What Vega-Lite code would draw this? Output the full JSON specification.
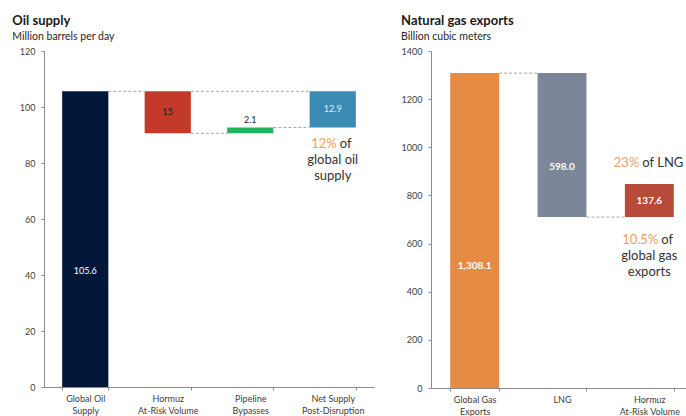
{
  "$schema": "https://vega.github.io/schema/vega-lite/v6.json",
  "padding": {"left": 12, "top": 14, "right": 0, "bottom": 0},
  "background": "white",
  "spacing": 27,
  "config": {
    "font": "Lato",
    "view": {"stroke": null},
    "axis": {"labelFont": "Lato", "labelFontSize": 9, "labelColor": "#404040", "domainColor": "#8c8c8c", "tickColor": "#8c8c8c", "tickSize": 3, "grid": false, "title": null},
    "title": {"anchor": "start", "frame": "bounds", "font": "Lato", "fontSize": 13, "fontWeight": "bold", "color": "#1a1a1a", "subtitleFont": "Lato", "subtitleFontSize": 10.5, "subtitleColor": "#262626", "subtitlePadding": 4, "offset": 5}
  },
  "datasets": {
    "oil": [
      {"cat": "Global Oil|Supply", "start": 0, "end": 105.6, "label": "105.6"},
      {"cat": "Hormuz|At-Risk Volume", "start": 90.6, "end": 105.6, "label": "15"},
      {"cat": "Pipeline|Bypasses", "start": 90.6, "end": 92.7, "label": "2.1"},
      {"cat": "Net Supply|Post-Disruption", "start": 92.7, "end": 105.6, "label": "12.9"}
    ],
    "oilLinks": [
      {"from": "Global Oil|Supply", "to": "Hormuz|At-Risk Volume", "y": 105.6},
      {"from": "Hormuz|At-Risk Volume", "to": "Net Supply|Post-Disruption", "y": 105.6},
      {"from": "Hormuz|At-Risk Volume", "to": "Pipeline|Bypasses", "y": 90.6},
      {"from": "Pipeline|Bypasses", "to": "Net Supply|Post-Disruption", "y": 92.7}
    ],
    "oilNotes": [
      {"cat": "Net Supply|Post-Disruption", "y": 86.8, "text": "12%", "part": "accent"},
      {"cat": "Net Supply|Post-Disruption", "y": 86.8, "text": "of", "part": "tail"},
      {"cat": "Net Supply|Post-Disruption", "y": 81.1, "text": "global oil", "part": "line"},
      {"cat": "Net Supply|Post-Disruption", "y": 75.4, "text": "supply", "part": "line"}
    ],
    "gas": [
      {"cat": "Global Gas|Exports", "start": 0, "end": 1308.1, "label": "1,308.1"},
      {"cat": "LNG", "start": 710.1, "end": 1308.1, "label": "598.0"},
      {"cat": "Hormuz|At-Risk Volume", "start": 710.1, "end": 847.7, "label": "137.6"}
    ],
    "gasLinks": [
      {"from": "Global Gas|Exports", "to": "LNG", "y": 1308.1},
      {"from": "LNG", "to": "Hormuz|At-Risk Volume", "y": 710.1}
    ],
    "gasNotes": [
      {"cat": "Hormuz|At-Risk Volume", "y": 936, "text": "23%", "part": "accent"},
      {"cat": "Hormuz|At-Risk Volume", "y": 936, "text": "of LNG", "part": "tail"},
      {"cat": "Hormuz|At-Risk Volume", "y": 613, "text": "10.5%", "part": "accent2"},
      {"cat": "Hormuz|At-Risk Volume", "y": 613, "text": "of", "part": "tail2"},
      {"cat": "Hormuz|At-Risk Volume", "y": 547, "text": "global gas", "part": "line"},
      {"cat": "Hormuz|At-Risk Volume", "y": 480, "text": "exports", "part": "line"}
    ]
  },
  "resolve": {"scale": {"color": "independent", "x": "independent", "y": "independent"}},
  "hconcat": [
    {
      "width": 330,
      "height": 336,
      "title": {"text": "Oil supply", "subtitle": "Million barrels per day", "dx": -7},
      "layer": [
        {
          "data": {"name": "oil"},
          "mark": {"type": "bar"},
          "encoding": {
            "x": {"field": "cat", "type": "nominal", "sort": null,
              "scale": {"domain": ["Global Oil|Supply", "Hormuz|At-Risk Volume", "Pipeline|Bypasses", "Net Supply|Post-Disruption"], "paddingInner": 0.44, "paddingOuter": 0.22},
              "axis": {"labelExpr": "datum.value ? split(datum.value, '|') : ''", "labelAngle": 0, "tickBand": "extent", "labelPadding": 4, "labelLineHeight": 12}},
            "y": {"field": "start", "type": "quantitative", "scale": {"domain": [0, 120]}, "axis": {"values": [0, 20, 40, 60, 80, 100, 120], "labelPadding": 6}},
            "y2": {"field": "end"},
            "color": {"field": "cat", "type": "nominal", "legend": null,
              "scale": {"domain": ["Global Oil|Supply", "Hormuz|At-Risk Volume", "Pipeline|Bypasses", "Net Supply|Post-Disruption"], "range": ["#00173a", "#c43a2a", "#22b35e", "#3b8ab4"]}}
          }
        },
        {
          "data": {"name": "oilLinks"},
          "mark": {"type": "rule", "color": "#a6a6a6", "strokeDash": [3, 2], "strokeWidth": 1},
          "encoding": {
            "x": {"field": "from", "type": "nominal", "bandPosition": 1},
            "x2": {"field": "to", "bandPosition": 0},
            "y": {"field": "y", "type": "quantitative"}
          }
        },
        {
          "data": {"name": "oil"},
          "transform": [{"filter": "datum.cat === 'Global Oil|Supply'"}, {"calculate": "(datum.start + datum.end) / 2", "as": "mid"}],
          "mark": {"type": "text", "fontSize": 9, "color": "white", "dy": 32},
          "encoding": {"x": {"field": "cat", "type": "nominal"}, "y": {"field": "mid", "type": "quantitative"}, "text": {"field": "label"}}
        },
        {
          "data": {"name": "oil"},
          "transform": [{"filter": "datum.cat === 'Hormuz|At-Risk Volume' || datum.cat === 'Net Supply|Post-Disruption'"}, {"calculate": "(datum.start + datum.end) / 2", "as": "mid"}],
          "mark": {"type": "text", "fontSize": 9},
          "encoding": {"x": {"field": "cat", "type": "nominal"}, "y": {"field": "mid", "type": "quantitative"}, "text": {"field": "label"},
            "color": {"condition": {"test": "datum.cat === 'Hormuz|At-Risk Volume'", "value": "#1a1a1a"}, "value": "#e3edf4"}}
        },
        {
          "data": {"name": "oil"},
          "transform": [{"filter": "datum.cat === 'Pipeline|Bypasses'"}],
          "mark": {"type": "text", "fontSize": 9, "color": "#262626", "baseline": "bottom", "dy": -2},
          "encoding": {"x": {"field": "cat", "type": "nominal"}, "y": {"field": "end", "type": "quantitative"}, "text": {"field": "label"}}
        },
        {
          "data": {"name": "oilNotes"},
          "transform": [{"filter": "datum.part === 'accent'"}],
          "mark": {"type": "text", "fontSize": 13, "color": "#f0a060", "align": "right", "dx": 4},
          "encoding": {"x": {"field": "cat", "type": "nominal"}, "y": {"field": "y", "type": "quantitative"}, "text": {"field": "text"}}
        },
        {
          "data": {"name": "oilNotes"},
          "transform": [{"filter": "datum.part === 'tail'"}],
          "mark": {"type": "text", "fontSize": 13, "color": "#333333", "align": "left", "dx": 7},
          "encoding": {"x": {"field": "cat", "type": "nominal"}, "y": {"field": "y", "type": "quantitative"}, "text": {"field": "text"}}
        },
        {
          "data": {"name": "oilNotes"},
          "transform": [{"filter": "datum.part === 'line'"}],
          "mark": {"type": "text", "fontSize": 13, "color": "#333333", "align": "center"},
          "encoding": {"x": {"field": "cat", "type": "nominal"}, "y": {"field": "y", "type": "quantitative"}, "text": {"field": "text"}}
        }
      ]
    },
    {
      "width": 262,
      "height": 337,
      "title": {"text": "Natural gas exports", "subtitle": "Billion cubic meters"},
      "layer": [
        {
          "data": {"name": "gas"},
          "mark": {"type": "bar"},
          "encoding": {
            "x": {"field": "cat", "type": "nominal", "sort": null,
              "scale": {"domain": ["Global Gas|Exports", "LNG", "Hormuz|At-Risk Volume"], "paddingInner": 0.44, "paddingOuter": 0.22},
              "axis": {"labelExpr": "datum.value ? split(datum.value, '|') : ''", "labelAngle": 0, "tickBand": "extent", "labelPadding": 4, "labelLineHeight": 12}},
            "y": {"field": "start", "type": "quantitative", "scale": {"domain": [0, 1400]}, "axis": {"values": [0, 200, 400, 600, 800, 1000, 1200, 1400], "format": "d", "labelPadding": 6}},
            "y2": {"field": "end"},
            "color": {"field": "cat", "type": "nominal", "legend": null,
              "scale": {"domain": ["Global Gas|Exports", "LNG", "Hormuz|At-Risk Volume"], "range": ["#e58b44", "#7b8798", "#b84a3a"]}}
          }
        },
        {
          "data": {"name": "gasLinks"},
          "mark": {"type": "rule", "color": "#a6a6a6", "strokeDash": [3, 2], "strokeWidth": 1},
          "encoding": {
            "x": {"field": "from", "type": "nominal", "bandPosition": 1},
            "x2": {"field": "to", "bandPosition": 0},
            "y": {"field": "y", "type": "quantitative"}
          }
        },
        {
          "data": {"name": "gas"},
          "transform": [{"filter": "datum.cat === 'Global Gas|Exports'"}, {"calculate": "(datum.start + datum.end) / 2", "as": "mid"}],
          "mark": {"type": "text", "fontSize": 10, "fontWeight": "bold", "color": "white", "dy": 35},
          "encoding": {"x": {"field": "cat", "type": "nominal"}, "y": {"field": "mid", "type": "quantitative"}, "text": {"field": "label"}}
        },
        {
          "data": {"name": "gas"},
          "transform": [{"filter": "datum.cat === 'LNG'"}, {"calculate": "(datum.start + datum.end) / 2", "as": "mid"}],
          "mark": {"type": "text", "fontSize": 10, "fontWeight": "bold", "color": "white", "dy": 22},
          "encoding": {"x": {"field": "cat", "type": "nominal"}, "y": {"field": "mid", "type": "quantitative"}, "text": {"field": "label"}}
        },
        {
          "data": {"name": "gas"},
          "transform": [{"filter": "datum.cat === 'Hormuz|At-Risk Volume'"}, {"calculate": "(datum.start + datum.end) / 2", "as": "mid"}],
          "mark": {"type": "text", "fontSize": 10, "fontWeight": "bold", "color": "white"},
          "encoding": {"x": {"field": "cat", "type": "nominal"}, "y": {"field": "mid", "type": "quantitative"}, "text": {"field": "label"}}
        },
        {
          "data": {"name": "gasNotes"},
          "transform": [{"filter": "datum.part === 'accent'"}],
          "mark": {"type": "text", "fontSize": 13, "color": "#f0a060", "align": "right", "dx": -10},
          "encoding": {"x": {"field": "cat", "type": "nominal"}, "y": {"field": "y", "type": "quantitative"}, "text": {"field": "text"}}
        },
        {
          "data": {"name": "gasNotes"},
          "transform": [{"filter": "datum.part === 'tail'"}],
          "mark": {"type": "text", "fontSize": 13, "color": "#333333", "align": "left", "dx": -7},
          "encoding": {"x": {"field": "cat", "type": "nominal"}, "y": {"field": "y", "type": "quantitative"}, "text": {"field": "text"}}
        },
        {
          "data": {"name": "gasNotes"},
          "transform": [{"filter": "datum.part === 'accent2'"}],
          "mark": {"type": "text", "fontSize": 13, "color": "#f0a060", "align": "right", "dx": 9},
          "encoding": {"x": {"field": "cat", "type": "nominal"}, "y": {"field": "y", "type": "quantitative"}, "text": {"field": "text"}}
        },
        {
          "data": {"name": "gasNotes"},
          "transform": [{"filter": "datum.part === 'tail2'"}],
          "mark": {"type": "text", "fontSize": 13, "color": "#333333", "align": "left", "dx": 12},
          "encoding": {"x": {"field": "cat", "type": "nominal"}, "y": {"field": "y", "type": "quantitative"}, "text": {"field": "text"}}
        },
        {
          "data": {"name": "gasNotes"},
          "transform": [{"filter": "datum.part === 'line'"}],
          "mark": {"type": "text", "fontSize": 13, "color": "#333333", "align": "center"},
          "encoding": {"x": {"field": "cat", "type": "nominal"}, "y": {"field": "y", "type": "quantitative"}, "text": {"field": "text"}}
        }
      ]
    }
  ]
}
